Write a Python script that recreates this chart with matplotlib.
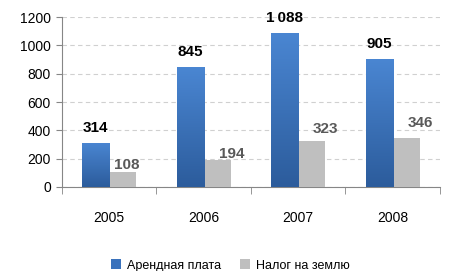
import numpy as np
import matplotlib
matplotlib.use("Agg")
import matplotlib.pyplot as plt
from matplotlib.colors import LinearSegmentedColormap

plt.rcParams['font.family'] = ['Liberation Sans', 'DejaVu Sans']

years = ['2005', '2006', '2007', '2008']
rent = [314, 845, 1088, 905]
land_tax = [108, 194, 323, 346]
rent_labels = ['314', '845', '1\u2009088', '905']
series_names = ['Арендная плата', 'Налог на землю']

# label offsets in pixels (labels were nudged by hand in the original)
tax_offsets = [(4, 7), (15, 6), (14, 12), (14, 15)]

fig = plt.figure(figsize=(4.55, 2.71), dpi=100)
ax = fig.add_axes([0.136, 0.31, 0.831, 0.627])

x = np.arange(len(years))
w = 0.286
blue_grad = LinearSegmentedColormap.from_list('bg', ['#2c5c9c', '#4a86d2'])

b1 = ax.bar(x - w / 2, rent, w, color='#3a72bc', label=series_names[0], zorder=3)
b2 = ax.bar(x + w / 2, land_tax, w, color='#bfbfbf', label=series_names[1], zorder=3)

grad = np.linspace(0, 1, 100).reshape(-1, 1)
for r in b1:
    x0, y0 = r.get_x(), r.get_y()
    im = ax.imshow(grad, cmap=blue_grad, origin='lower', aspect='auto',
                   extent=[x0, x0 + r.get_width(), y0, y0 + r.get_height()], zorder=3.5)
    im.set_clip_path(r)

for r, lab in zip(b1, rent_labels):
    ax.annotate(lab, (r.get_x() + r.get_width() / 2, r.get_height()),
                xytext=(0, 15), textcoords='offset pixels', ha='center', va='center',
                fontsize=11, fontweight='bold', color='black', zorder=5)
for r, v, (dx, dy) in zip(b2, land_tax, tax_offsets):
    ax.annotate(str(v), (r.get_x() + r.get_width() / 2, r.get_height()),
                xytext=(dx, dy), textcoords='offset pixels', ha='center', va='center',
                fontsize=11, fontweight='bold', color='#595959', zorder=5)

ax.set_xlim(-0.5, len(years) - 0.5)
ax.set_ylim(0, 1200)
ax.set_yticks(np.arange(0, 1201, 200))
ax.yaxis.grid(True, linestyle=(0, (4, 3)), color='#d0d0d0', linewidth=0.8, zorder=0)

ax.set_xticks(x)
ax.set_xticklabels(years)
ax.set_xticks(np.arange(-0.5, len(years)), minor=True)
ax.tick_params(axis='x', which='major', length=0, pad=17, labelsize=10)
ax.tick_params(axis='x', which='minor', length=5, color='#868686', direction='out')
ax.tick_params(axis='y', length=4, color='#868686', labelsize=10, pad=4)

for s in ['top', 'right']:
    ax.spines[s].set_visible(False)
for s in ['left', 'bottom']:
    ax.spines[s].set_color('#868686')

ax.legend(loc='upper center', bbox_to_anchor=(0.445, -0.36), ncol=2, frameon=False,
          fontsize=9, handlelength=0.8, handleheight=0.8, handletextpad=0.5,
          columnspacing=1.5)

fig.savefig('out.png', dpi=100)
